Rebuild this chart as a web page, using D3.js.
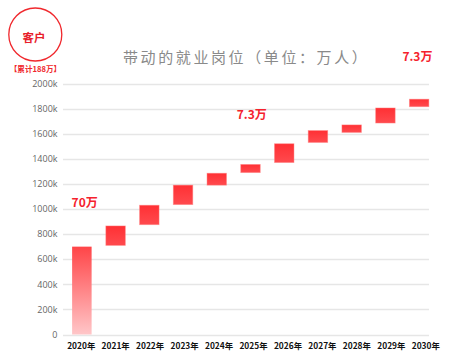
<!DOCTYPE html>
<html><head><meta charset="utf-8">
<script src="https://cdn.jsdelivr.net/npm/d3@7"></script>
<style>
html,body{margin:0;padding:0;background:#fff;}
svg{display:block;}
</style></head>
<body>
<svg id="chart" width="461" height="357"></svg>
<script>
const years = ["2020年","2021年","2022年","2023年","2024年","2025年","2026年","2027年","2028年","2029年","2030年"];
const barLow  = [0, 710, 875, 1035, 1190, 1290, 1370, 1530, 1610, 1685, 1815];
const barHigh = [700, 865, 1030, 1190, 1285, 1355, 1520, 1625, 1670, 1805, 1875];
const yTicks = [0,200,400,600,800,1000,1200,1400,1600,1800,2000];
const annoText = ["70万","7.3万","7.3万"];
const annoYear = ["2020年","2025年","2030年"];
const annoValue = [1055, 1755, 2215];
const titleText = "带动的就业岗位（单位：万人）";
const badgeText = "客户";
const badgeSub = "【累计188万】";

const svg = d3.select("#chart");
const defs = svg.append("defs");
const g1 = defs.append("linearGradient").attr("id","gFirst").attr("x1",0).attr("y1",0).attr("x2",0).attr("y2",1);
g1.append("stop").attr("offset","0%").attr("stop-color","#ff4548");
g1.append("stop").attr("offset","100%").attr("stop-color","#ffc6c8");
const g2 = defs.append("linearGradient").attr("id","gBar").attr("x1",0).attr("y1",0).attr("x2",0).attr("y2",1);
g2.append("stop").attr("offset","0%").attr("stop-color","#ff3034");
g2.append("stop").attr("offset","100%").attr("stop-color","#ff4a4e");

const y = d3.scaleLinear().domain([0,2000]).range([334.5,83.5]);
const x = d3.scaleBand().domain(years).range([65,436]).paddingInner(0.422).paddingOuter(0.211);
const xl = d3.scalePoint().domain(years).range([81.2,425.8]);
const gridX0 = 63, gridX1 = 429;

// grid
svg.append("g").selectAll("line").data(yTicks).join("line")
  .attr("x1",gridX0).attr("x2",gridX1)
  .attr("y1",d=>Math.round(y(d))+0.5).attr("y2",d=>Math.round(y(d))+0.5)
  .attr("stroke","#e6e6e6").attr("stroke-width",1.3);

// y tick labels
svg.append("g").selectAll("text").data(yTicks).join("text")
  .attr("x",57.5).attr("y",d=>y(d)+3.2)
  .attr("text-anchor","end")
  .attr("font-family","'Open Sans', Lato, sans-serif")
  .attr("font-size",9).attr("fill","#666")
  .text(d=> d===0 ? "0" : d+"k");

// bars
const data = years.map((yr,i)=>({yr, lo:barLow[i], hi:barHigh[i], i}));
svg.append("g").selectAll("rect").data(data).join("rect")
  .attr("x",d=>x(d.yr)).attr("width",x.bandwidth())
  .attr("y",d=>y(d.hi)).attr("height",d=>y(d.lo)-y(d.hi))
  .attr("fill",d=>d.i===0?"url(#gFirst)":"url(#gBar)")
  .attr("stroke",d=>d.i===0?"none":"rgba(255,130,130,0.55)").attr("stroke-width",0.8);

// x labels
svg.append("g").selectAll("text").data(years).join("text")
  .attr("x",d=>xl(d)).attr("y",349)
  .attr("text-anchor","middle")
  .attr("font-family","'Noto Sans CJK SC', sans-serif")
  .attr("font-weight","bold")
  .attr("font-size",8.4).attr("fill","#111")
  .text(d=>d);

// annotations
svg.append("g").selectAll("text").data(annoText).join("text")
  .attr("x",(d,i)=>x(annoYear[i]) - (i===0?0.5:(i===1?4:7)))
  .attr("y",(d,i)=>y(annoValue[i])+4.5)
  .attr("font-family","'Noto Sans CJK SC', sans-serif")
  .attr("font-weight","bold")
  .attr("font-size",12).attr("fill","#f5222d")
  .text(d=>d);

// title
svg.append("text").attr("x",123).attr("y",63)
  .attr("font-family","'Noto Sans CJK SC', sans-serif")
  .attr("font-size",15).attr("fill","#8a8a8a")
  .attr("letter-spacing",2.6)
  .text(titleText);

// badge
svg.append("circle").attr("cx",35.3).attr("cy",34.5).attr("r",26.5)
  .attr("fill","none").attr("stroke","#f0282d").attr("stroke-width",1.3);
svg.append("text").attr("x",34).attr("y",41.5).attr("text-anchor","middle")
  .attr("font-family","'Noto Sans CJK SC', sans-serif").attr("font-weight","bold")
  .attr("font-size",11.5).attr("fill","#e8202a").text(badgeText);
svg.append("text").attr("x",35.5).attr("y",72).attr("text-anchor","middle")
  .attr("font-family","'Noto Sans CJK SC', sans-serif").attr("font-weight","bold")
  .attr("font-size",7.6).attr("fill","#f0282d").text(badgeSub);
</script>
</body></html>
